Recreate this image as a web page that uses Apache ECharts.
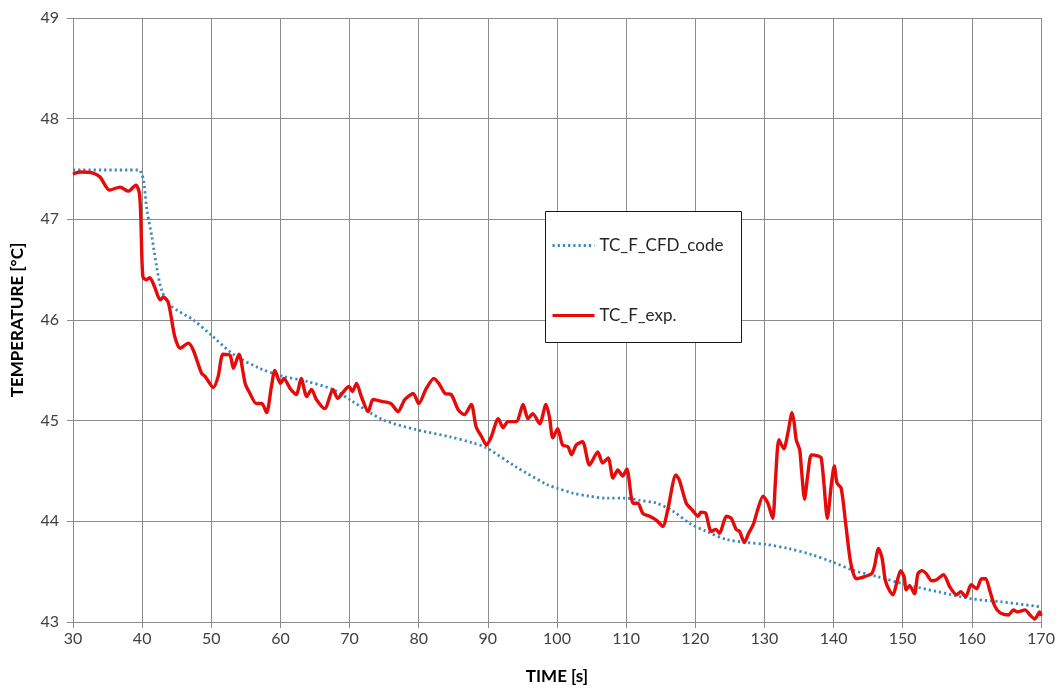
<!DOCTYPE html>
<html>
<head>
<meta charset="utf-8">
<title>TC_F temperature</title>
<script src="https://cdn.jsdelivr.net/npm/echarts@6/dist/echarts.min.js"></script>
<style>
  html, body { margin: 0; padding: 0; background: #fff; }
  #chart { width: 1061px; height: 691px; }
</style>
</head>
<body>
<div id="chart"></div>
<script>
// Axis ranges and titles
const timeRange = [30, 170];
const tempRange = [43, 49];
const xTitle = 'TIME [s]';
const yTitle = 'TEMPERATURE [°C]';
const seriesNames = ['TC_F_CFD_code', 'TC_F_exp.'];

// Simulated thermocouple (CFD code): time [s] and temperature [°C]
const cfdTime = [30, 39.5, 39.8, 40.2, 40.7, 41.4, 42.1, 42.8, 44.0, 47.4, 50.0, 53.2, 57.0, 60.4, 63.8,
  67.6, 70.0, 74.8, 79.7, 84.5, 87.8, 89.8, 94.1, 98.7, 100, 102.3, 104.7, 107.1, 110, 111.9, 114.4,
  116.8, 119.2, 121.6, 124.5, 127.4, 130.2, 133.5, 136.8, 139.7, 143, 146.4, 150, 155.1, 160, 164.3, 170];
const cfdTemp = [47.49, 47.49, 47.47, 47.39, 47.09, 46.83, 46.53, 46.30, 46.15, 46.00, 45.85, 45.66, 45.52, 45.44, 45.39,
  45.31, 45.21, 45.01, 44.91, 44.84, 44.78, 44.73, 44.54, 44.36, 44.33, 44.28, 44.25, 44.23, 44.23, 44.21, 44.18,
  44.10, 43.98, 43.90, 43.82, 43.79, 43.77, 43.73, 43.67, 43.60, 43.51, 43.45, 43.38, 43.30, 43.23, 43.20, 43.15];

// Measured thermocouple (experiment): time [s] and temperature [°C]
const expTime = [30.0, 31.0, 32.9, 33.9, 35.3, 36.8, 38.0, 39.1, 39.6, 39.8, 40.1, 40.6, 41.1, 41.8, 42.6, 43.1,
  43.8, 44.7, 45.5, 46.7, 47.4, 48.6, 49.1, 50.3, 51.0, 51.7, 52.7, 53.2, 54.0, 54.9, 55.6, 56.5, 57.3, 58.0,
  58.7, 59.2, 60.0, 60.5, 61.4, 62.3, 63.0, 63.8, 64.5, 65.2, 66.4, 67.6, 68.3, 68.8, 69.9, 70.4, 71.0, 71.7,
  72.7, 73.4, 74.8, 76.0, 77.0, 78.0, 79.2, 80.0, 81.1, 82.2, 83.0, 83.8, 84.7, 85.7, 86.6, 87.6, 88.3, 89.1,
  89.8, 90.5, 91.5, 92.2, 92.9, 94.1, 95.1, 95.8, 96.5, 97.5, 98.4, 98.9, 99.4, 100.1, 100.8, 101.6, 102.1,
  102.8, 103.7, 104.7, 105.9, 106.6, 107.4, 108.1, 108.8, 109.5, 110.1, 111.0, 111.7, 112.4, 113.4, 114.4,
  115.3, 116.0, 117.2, 117.7, 118.7, 119.6, 120.4, 120.8, 121.5, 122.3, 123.0, 123.5, 124.5, 125.2, 125.9,
  126.4, 127.1, 127.7, 128.4, 129.0, 129.8, 130.5, 131.2, 131.6, 132.1, 132.8, 133.4, 134.0, 134.3, 134.6,
  135.1, 135.4, 135.8, 136.3, 136.8, 137.7, 138.2, 138.6, 139.1, 139.7, 140.1, 140.5, 141.1, 141.8, 142.5,
  143.3, 144.5, 145.5, 145.9, 146.5, 147.0, 147.5, 148.1, 148.6, 149.1, 149.7, 150.2, 150.5, 151.0, 151.7,
  152.2, 152.8, 153.4, 154.2, 154.9, 155.9, 156.8, 157.8, 158.4, 159.1, 159.9, 160.7, 161.4, 162.0, 162.6,
  163.3, 164.1, 165.3, 166.0, 166.6, 167.7, 168.4, 169.1, 169.8, 170.0];
const expTemp = [47.45, 47.47, 47.46, 47.42, 47.29, 47.32, 47.28, 47.34, 47.26, 47.03, 46.43, 46.40, 46.42, 46.33, 46.20, 46.23,
  46.17, 45.84, 45.72, 45.77, 45.70, 45.47, 45.44, 45.33, 45.44, 45.66, 45.65, 45.52, 45.66, 45.37, 45.27, 45.17, 45.17, 45.08,
  45.34, 45.50, 45.37, 45.42, 45.32, 45.26, 45.42, 45.24, 45.31, 45.21, 45.12, 45.31, 45.22, 45.26, 45.34, 45.29, 45.37, 45.24,
  45.09, 45.21, 45.19, 45.17, 45.09, 45.21, 45.27, 45.17, 45.32, 45.42, 45.36, 45.27, 45.26, 45.11, 45.06, 45.16, 44.94, 44.84,
  44.76, 44.84, 45.02, 44.93, 44.99, 44.99, 45.16, 45.02, 45.07, 44.97, 45.16, 45.04, 44.83, 44.92, 44.76, 44.74, 44.66,
  44.76, 44.79, 44.56, 44.69, 44.58, 44.63, 44.43, 44.51, 44.45, 44.52, 44.18, 44.18, 44.08, 44.05, 44.01,
  43.95, 44.11, 44.46, 44.41, 44.18, 44.11, 44.05, 44.09, 44.08, 43.90, 43.92, 43.88, 44.05, 44.03, 43.92,
  43.90, 43.79, 43.88, 43.97, 44.11, 44.25, 44.18, 44.03, 44.41, 44.81, 44.72, 44.88, 45.08, 44.98, 44.81,
  44.71, 44.48, 44.22, 44.48, 44.66, 44.65, 44.63, 44.38, 44.03, 44.38, 44.55, 44.38, 44.33, 43.95, 43.58,
  43.43, 43.45, 43.48, 43.55, 43.73, 43.64, 43.41, 43.31, 43.27, 43.38, 43.51, 43.45, 43.32, 43.36, 43.28,
  43.48, 43.51, 43.48, 43.41, 43.42, 43.47, 43.35, 43.27, 43.30, 43.25, 43.37, 43.33, 43.43, 43.43, 43.31,
  43.16, 43.09, 43.07, 43.12, 43.10, 43.12, 43.07, 43.03, 43.10, 43.06];

const pair = (xs, ys) => xs.map((x, i) => [x, ys[i]]);

const FONT = 'Lato, "Open Sans", sans-serif';
const GRID_COLOR = '#8c8c8c';

const chart = echarts.init(document.getElementById('chart'), null, { renderer: 'canvas' });

chart.setOption({
  backgroundColor: '#ffffff',
  animation: false,
  textStyle: { fontFamily: FONT },
  grid: { left: 73, right: 20, top: 18, bottom: 69, containLabel: false },
  // white legend frame drawn over the grid lines
  graphic: [{
    type: 'rect',
    left: 545, top: 211, z: 3,
    shape: { width: 196, height: 131 },
    style: { fill: '#ffffff', stroke: '#1a1a1a', lineWidth: 1 }
  }],
  legend: {
    orient: 'vertical',
    left: 551, top: 237,
    padding: 0,
    itemWidth: 42, itemHeight: 14, itemGap: 53,
    z: 5,
    // line-only legend keys (no marker dot)
    itemStyle: { opacity: 0, color: 'rgba(0,0,0,0)', borderWidth: 0 },
    lineStyle: { width: 3 },
    textStyle: { fontFamily: FONT, fontSize: 17, color: '#262626' },
    data: seriesNames
  },
  xAxis: {
    type: 'value',
    min: timeRange[0], max: timeRange[1], interval: 10,
    name: xTitle, nameLocation: 'middle', nameGap: 46,
    nameTextStyle: { fontFamily: FONT, fontSize: 17, fontWeight: 'bold', color: '#000' },
    axisLine: { show: true, lineStyle: { color: GRID_COLOR, width: 1 } },
    axisTick: { show: true, length: 6, lineStyle: { color: GRID_COLOR } },
    axisLabel: { fontSize: 16, color: '#404040', margin: 9, fontFamily: FONT },
    splitLine: { show: true, lineStyle: { color: GRID_COLOR, width: 1 } }
  },
  yAxis: {
    type: 'value',
    min: tempRange[0], max: tempRange[1], interval: 1,
    name: yTitle, nameLocation: 'middle', nameGap: 47, nameRotate: 90,
    nameTextStyle: { fontFamily: FONT, fontSize: 17, fontWeight: 'bold', color: '#000' },
    axisLine: { show: true, lineStyle: { color: GRID_COLOR, width: 1 } },
    axisTick: { show: true, length: 6, lineStyle: { color: GRID_COLOR } },
    axisLabel: { fontSize: 16, color: '#404040', margin: 14, fontFamily: FONT },
    splitLine: { show: true, lineStyle: { color: GRID_COLOR, width: 1 } }
  },
  series: [
    {
      name: seriesNames[0],
      type: 'line',
      data: pair(cfdTime, cfdTemp),
      symbol: 'none',
      smooth: 0.3,
      z: 3,
      lineStyle: { color: '#3a8ac0', width: 2.8, type: [2.2, 3.0], cap: 'butt' },
      itemStyle: { color: '#3a8ac0' }
    },
    {
      name: seriesNames[1],
      type: 'line',
      data: pair(expTime, expTemp),
      symbol: 'none',
      smooth: 0.25,
      z: 4,
      lineStyle: { color: '#e60b0b', width: 3.4 },
      itemStyle: { color: '#e60b0b' }
    }
  ]
});
</script>
</body>
</html>
